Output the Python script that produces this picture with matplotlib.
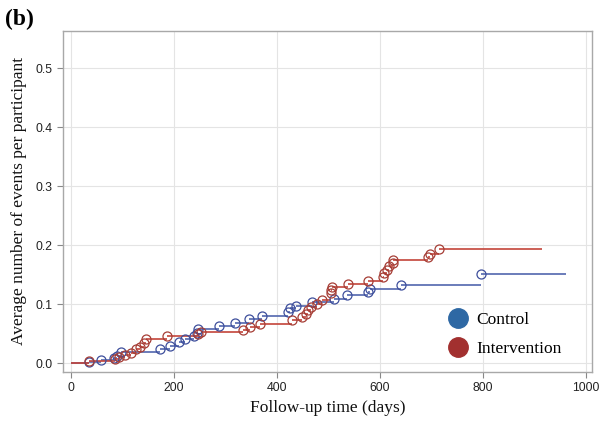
import matplotlib
matplotlib.use("Agg")
import matplotlib.pyplot as plt
from matplotlib.lines import Line2D

# Control (blue) events: time (days) and cumulative mean events per participant
control_t = [36, 59, 84, 91, 98, 174, 193, 211, 222, 240, 245, 248, 289, 320, 347,
             372, 422, 426, 437, 469, 511, 537, 578, 581, 641, 796]
control_y = [0.003, 0.005, 0.009, 0.013, 0.019, 0.025, 0.030, 0.036, 0.042, 0.047,
             0.052, 0.058, 0.064, 0.069, 0.075, 0.081, 0.087, 0.093, 0.098, 0.104,
             0.109, 0.115, 0.121, 0.126, 0.133, 0.151]
control_end = 961

# Intervention (red) events
interv_t = [35, 86, 95, 106, 117, 127, 135, 143, 147, 188, 247, 254, 335, 348, 368,
            429, 450, 457, 461, 467, 478, 487, 505, 506, 507, 538, 578, 606, 608,
            613, 617, 625, 626, 694, 697, 715]
interv_y = [0.004, 0.008, 0.011, 0.014, 0.018, 0.024, 0.028, 0.035, 0.041, 0.046,
            0.050, 0.053, 0.057, 0.062, 0.067, 0.073, 0.079, 0.084, 0.090, 0.095,
            0.100, 0.107, 0.119, 0.124, 0.130, 0.135, 0.140, 0.147, 0.153, 0.159,
            0.165, 0.170, 0.175, 0.181, 0.186, 0.194]
interv_end = 914

x_ticks = [0, 200, 400, 600, 800, 1000]
y_ticks = [0.0, 0.1, 0.2, 0.3, 0.4, 0.5]

line_blue = "#5266AE"
mark_blue = "#3E4F9C"
line_red = "#C4443A"
mark_red = "#A63E36"
leg_blue = "#2E68A4"
leg_red = "#A2302F"

fig = plt.figure(figsize=(6.02, 4.21), dpi=100)
ax = fig.add_axes([0.1047, 0.1164, 0.8787, 0.8106])

def draw(ts, ys, end, lc, mc):
    starts = [0] + ts
    stops = ts + [end]
    levels = [0] + ys
    ax.hlines(levels, starts, stops, colors=lc, lw=1.2, zorder=3)
    ax.plot(ts, ys, linestyle="none", marker="o", ms=6.5, mfc="none",
            mec=mc, mew=0.9, zorder=4)

draw(control_t, control_y, control_end, line_blue, mark_blue)
draw(interv_t, interv_y, interv_end, line_red, mark_red)

ax.set_xlim(-14.5, 1011.6)
ax.set_ylim(-0.0147, 0.5637)
ax.set_xticks(x_ticks)
ax.set_yticks(y_ticks)
ax.set_xticklabels([str(v) for v in x_ticks])
ax.set_yticklabels([f"{v:.1f}" for v in y_ticks])

ax.grid(True, color="#E4E4E4", lw=0.8, zorder=0)
ax.set_axisbelow(True)
for s in ax.spines.values():
    s.set_color("#A8A8A8")
    s.set_linewidth(1.0)
ax.tick_params(axis="both", colors="#888888", length=4, width=0.8,
               labelcolor="#222222", labelsize=8.8, direction="out")
for lab in ax.get_xticklabels() + ax.get_yticklabels():
    lab.set_fontfamily("Liberation Sans")

ax.set_xlabel("Follow-up time (days)", family="Liberation Serif", fontsize=12.5,
              color="#111111", labelpad=4)
ax.set_ylabel("Average number of events per participant", family="Liberation Serif",
              fontsize=12.5, color="#111111", labelpad=6)

handles = [Line2D([], [], linestyle="none", marker="o", ms=14, mfc=leg_blue, mec=leg_blue),
           Line2D([], [], linestyle="none", marker="o", ms=14, mfc=leg_red, mec=leg_red)]
leg = ax.legend(handles, ["Control", "Intervention"], loc="lower right",
                bbox_to_anchor=(0.962, 0.012), frameon=False,
                prop={"family": "Liberation Serif", "size": 12.5},
                handletextpad=0.05, labelspacing=0.75, borderaxespad=0.2)

fig.text(0.008, 0.98, "(b)", family="Liberation Serif", fontweight="bold",
         fontsize=17, va="top", ha="left")

fig.savefig("out.png", dpi=100)
